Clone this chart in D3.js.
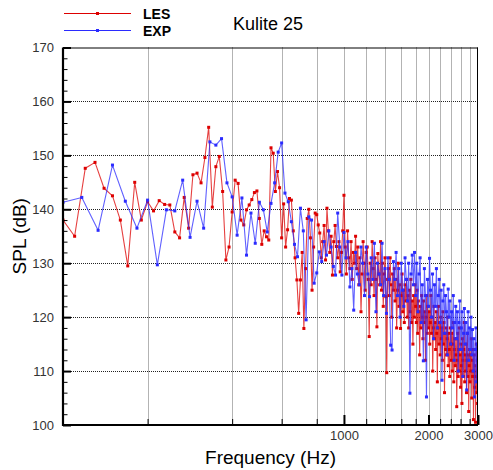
<!DOCTYPE html>
<html>
<head>
<meta charset="utf-8">
<script src="https://cdn.jsdelivr.net/npm/d3@7"></script>
<style>
  html, body { margin: 0; padding: 0; background: #fff; }
  svg { display: block; font-family: "Liberation Sans", Arial, Helvetica, sans-serif; }
</style>
</head>
<body>
<svg id="chart" width="493" height="470"></svg>
<script>
// Frequency bins (Hz) of each spectrum
const lesFreq = d3.range(0, 291).map(k => 100 + 10 * k);
const expFreq = d3.range(0, 175).map(k => 100 + (50 / 3) * k);

// LES spectrum, SPL (dB)
const lesSPL = [
  138, 135, 147.6, 148.7, 143.9, 142.5, 138, 129.5, 145, 138,
  141.4, 139.7, 141.6, 140.9, 140.8, 135.8, 134.7, 142.2, 136.5, 146.4,
  146.7, 144.9, 149.6, 155.2, 140.4, 147.9, 149.8, 143.3, 130.6, 133,
  139.5, 145.4, 144.8, 138, 137.1, 139.9, 140.8, 141.8, 143.1, 143.4,
  138.3, 133.5, 136, 134.9, 134.3, 151.4, 150.4, 143.3, 147, 144,
  134.7, 141, 133, 136.2, 142, 141.7, 136, 131, 126.9, 120.7,
  126.9, 132, 117.9, 129, 138.3, 140, 134.7, 125, 133, 139.3,
  139, 137.1, 135.6, 131, 134, 137, 130.6, 140.2, 136, 132,
  135, 127.8, 134, 137, 133.1, 131, 134, 128.4, 132, 136,
  142.6,
  133, 128, 136, 131, 129, 134, 127, 132, 130, 135,
  129, 133, 126, 131, 121, 128, 134, 130, 125, 132,
  133, 127, 116.4, 130, 126, 134, 129, 124, 131, 127,
  118.2, 131.8, 128, 126, 134, 125, 130, 122, 128, 131,
  123.8, 109.7, 127, 129, 124, 131, 126, 120, 128, 125,
  129, 123, 127, 118, 125, 130, 122, 126, 117.9, 124,
  128, 121, 125, 119, 126, 123, 127, 120, 124, 118,
  125, 121, 127, 119, 123, 115, 124, 120, 126, 122,
  119, 125, 117, 123, 121, 113, 122, 118, 124, 120,
  116, 123, 119, 121, 112, 120, 124, 117, 122, 118,
  121, 115, 119, 124, 117, 120, 110, 118, 122, 116,
  119, 114, 121, 117, 108, 118, 122, 115, 119, 113,
  120, 116, 118, 112, 121, 115, 119, 106, 117, 114,
  118, 113, 116, 120, 111, 117, 114, 109, 118, 115,
  112, 117, 110, 115, 119, 108, 114, 116, 111, 113,
  116, 103.4, 112, 117, 109, 114, 118, 110, 113, 107,
  115, 111, 104, 116, 112, 109, 114, 119, 108, 113,
  110, 115, 106, 112, 117, 109, 113, 102.5, 111, 114,
  108, 113, 110, 116, 105, 112, 109, 114, 101, 110,
  113, 107, 111, 100.5, 109, 115, 106, 112, 104, 110
];

// Measured spectrum, SPL (dB)
const expSPL = [
  141.3, 142.2, 136.1, 148.2, 141.5, 136.5, 141.7, 129.7, 139.9, 139.7,
  145.4, 134.8, 141.5, 136.5, 152.5, 151.9, 153.1, 144.9, 142.3, 135.2,
  142.1, 131.5, 139.3, 133.7, 141.3, 139.9, 135.8, 141.1, 144.9, 150.6,
  152.3, 143, 141.4, 137.7, 133.5, 131.2, 140.2, 136, 119.5, 138.6,
  138, 126.3, 128.2, 132.1, 130.3, 134, 131.5, 136, 133, 129.4,
  127.8, 139.3, 133, 127.8, 135.7,
  131, 134, 125.6, 129, 121.3, 132, 128, 126, 133, 130,
  124, 133, 128, 123.8, 131, 127, 133.7, 121, 130, 128,
  126, 133.7, 124, 129, 120.7, 131, 127, 114.8, 113.9, 130.3,
  127, 132, 124, 129, 120, 130, 125, 122, 131, 127,
  123, 130, 105.9, 128, 131.5, 126, 132, 124, 130, 121,
  128, 131, 119, 126, 111.9, 129, 124, 105.2, 127, 122,
  130.9, 125, 120, 128, 116, 126, 122, 129, 118, 124,
  127, 119, 125, 108.3, 123, 126, 117, 124, 121, 113,
  125.2, 120, 123, 115, 121, 118, 124, 112, 119, 122,
  116, 121, 110, 119, 123, 114, 118, 121, 109, 117,
  121.6, 115, 119, 106.5, 117, 121, 112, 118, 114, 120,
  113, 117.7, 110, 116, 105.2, 114, 118, 108, 115, 112
];

// Axis ticks
const yMajor = [100, 110, 120, 130, 140, 150, 160, 170];
const yMinor = d3.range(100, 171, 2).filter(v => v % 10 !== 0);
const xLabelled = [1000, 2000, 3000];
const xGrid = [200, 400, 600, 800, 1000, 1200, 1400, 1600, 1800, 2000, 2200, 2400, 2600, 2800];
const xMinor = xGrid.filter(v => v !== 1000 && v !== 2000);

const seriesNames = ["LES", "EXP"];
const seriesColors = ["#dd0000", "#2b2bff"];

const svg = d3.select("#chart");
const plotL = 63, plotR = 478, plotT = 47.5, plotB = 425;

const x = d3.scaleLog().domain([100, 3000]).range([plotL, plotR]);
const y = d3.scaleLinear().domain([100, 170]).range([plotB, plotT]);

// Grid
const grid = svg.append("g");
grid.selectAll("line.h").data(yMajor.filter(v => v > 100 && v < 170)).join("line")
  .attr("x1", plotL).attr("x2", plotR)
  .attr("y1", d => Math.round(y(d)) + 0.5).attr("y2", d => Math.round(y(d)) + 0.5)
  .attr("stroke", "#222").attr("stroke-width", 1).attr("stroke-dasharray", "1,1");
grid.selectAll("line.v").data(xGrid).join("line")
  .attr("x1", d => Math.round(x(d)) + 0.5).attr("x2", d => Math.round(x(d)) + 0.5)
  .attr("y1", plotT).attr("y2", plotB)
  .attr("stroke", "#666").attr("stroke-width", 1).attr("stroke-dasharray", "1,1");

// Data
svg.append("defs").append("clipPath").attr("id", "plotClip")
  .append("rect").attr("x", plotL).attr("y", plotT).attr("width", plotR - plotL).attr("height", plotB - plotT);

const plot = svg.append("g").attr("clip-path", "url(#plotClip)");
const series = [
  { freq: lesFreq, spl: lesSPL, color: seriesColors[0] },
  { freq: expFreq, spl: expSPL, color: seriesColors[1] }
];
const line = d3.line().x(d => x(d[0])).y(d => y(d[1]));

series.forEach(s => {
  const pts = s.freq.map((f, i) => [f, s.spl[i]]);
  plot.append("path").datum(pts)
    .attr("d", line)
    .attr("fill", "none")
    .attr("stroke", s.color)
    .attr("stroke-opacity", 0.75)
    .attr("stroke-width", 1.1)
    .attr("stroke-linejoin", "round");
  plot.selectAll(null).data(pts).join("rect")
    .attr("x", d => x(d[0]) - 1.5).attr("y", d => y(d[1]) - 1.5)
    .attr("width", 3).attr("height", 3)
    .attr("fill", s.color);
});

// Axes
const tickFont = g => g.selectAll("text")
  .attr("font-size", 13).attr("fill", "#333")
  .attr("font-family", "'Liberation Sans', Arial, sans-serif");

svg.append("g").attr("transform", `translate(${plotL},0)`)
  .call(d3.axisLeft(y).tickValues(yMajor).tickSize(-8).tickPadding(9).tickFormat(d3.format("d")))
  .call(g => g.select(".domain").remove())
  .call(g => g.selectAll(".tick line").attr("stroke", "#000").attr("stroke-width", 2))
  .call(tickFont);

svg.append("g").attr("transform", `translate(${plotL},0)`)
  .call(d3.axisLeft(y).tickValues(yMinor).tickSize(-4.5).tickFormat(""))
  .call(g => g.select(".domain").remove())
  .call(g => g.selectAll(".tick line").attr("stroke", "#000").attr("stroke-width", 1));

svg.append("g").attr("transform", `translate(0,${plotB})`)
  .call(d3.axisBottom(x).tickValues(xLabelled).tickSize(-10).tickPadding(6).tickFormat(d3.format("d")))
  .call(g => g.select(".domain").remove())
  .call(g => g.selectAll(".tick line").attr("stroke", "#000").attr("stroke-width", 2))
  .call(tickFont);

svg.append("g").attr("transform", `translate(0,${plotB})`)
  .call(d3.axisBottom(x).tickValues(xMinor).tickSize(-6).tickFormat(""))
  .call(g => g.select(".domain").remove())
  .call(g => g.selectAll(".tick line").attr("stroke", "#000").attr("stroke-width", 1));

// Frame
svg.append("line").attr("x1", plotL).attr("x2", plotR).attr("y1", plotT + 0.5).attr("y2", plotT + 0.5)
  .attr("stroke", "#000").attr("stroke-width", 1);
svg.append("line").attr("x1", plotR - 0.5).attr("x2", plotR - 0.5).attr("y1", plotT).attr("y2", plotB)
  .attr("stroke", "#000").attr("stroke-width", 1);
svg.append("line").attr("x1", plotL).attr("x2", plotL).attr("y1", plotT).attr("y2", plotB + 1)
  .attr("stroke", "#000").attr("stroke-width", 2.2);
svg.append("line").attr("x1", plotL - 1).attr("x2", plotR).attr("y1", plotB).attr("y2", plotB)
  .attr("stroke", "#000").attr("stroke-width", 2.2);

// Axis titles
svg.append("text").attr("x", (plotL + plotR) / 2).attr("y", 463.5)
  .attr("text-anchor", "middle").attr("font-size", 19).attr("fill", "#000")
  .text("Frequency (Hz)");
svg.append("text").attr("transform", `translate(25.5,${(plotT + plotB) / 2}) rotate(-90)`)
  .attr("text-anchor", "middle").attr("font-size", 19).attr("fill", "#000")
  .text("SPL (dB)");

// Title
svg.append("text").attr("x", 233).attr("y", 30).attr("font-size", 18).attr("fill", "#000")
  .text("Kulite 25");

// Legend
const legend = svg.append("g");
seriesNames.forEach((name, i) => {
  const ly = 13.5 + i * 17;
  legend.append("line").attr("x1", 64).attr("x2", 131).attr("y1", ly).attr("y2", ly)
    .attr("stroke", seriesColors[i]).attr("stroke-width", 1.2);
  legend.append("rect").attr("x", 96).attr("y", ly - 1.5).attr("width", 3).attr("height", 3)
    .attr("fill", seriesColors[i]);
  legend.append("text").attr("x", 143).attr("y", ly + 5).attr("font-size", 14)
    .attr("font-weight", "bold").attr("fill", "#000").text(name);
});
</script>
</body>
</html>
